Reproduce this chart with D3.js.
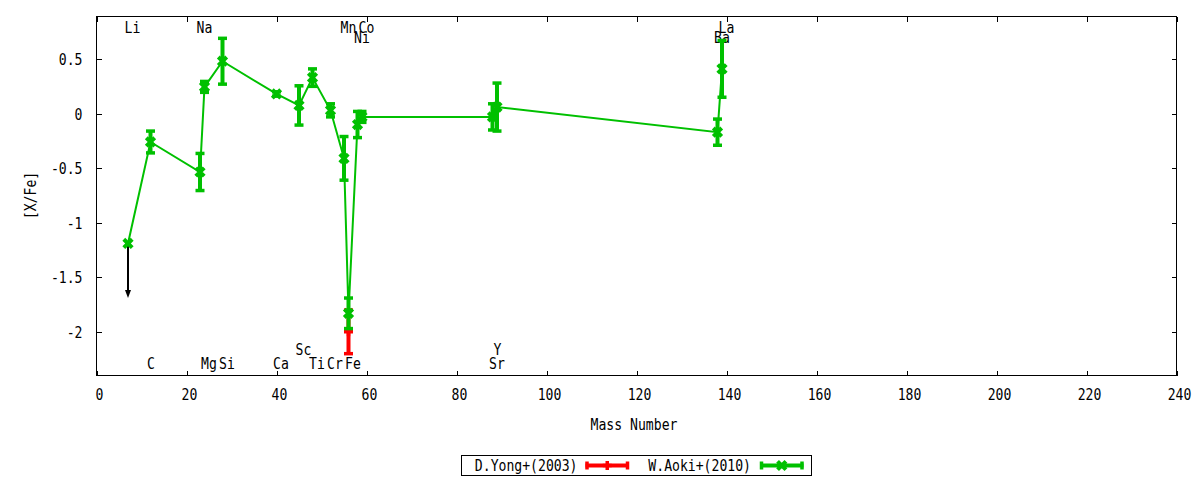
<!DOCTYPE html>
<html><head><meta charset="utf-8">
<script src="https://cdn.jsdelivr.net/npm/d3@7"></script>
<style>body{margin:0;background:#fff}</style>
</head><body>
<svg id="c" width="1200" height="480"></svg>
<script>
// ---- data ----
const elements    = ["Li","C","Na","Mg","Si","Ca","Sc","Ti","Cr","Mn","Fe","Ni","Co","Sr","Y","Ba","La"];
const massNumbers = [7, 12, 23, 24, 28, 40, 45, 48, 52, 55, 56, 58, 59, 88, 89, 138, 139];
const aokiXFe     = [-1.19,-0.26,-0.535,0.245,0.48,0.18,0.075,0.33,0.03,-0.41,-1.83,-0.10,-0.03,-0.03,0.06,-0.17,0.41];
const aokiErr     = [0,0.10,0.17,0.05,0.21,0.02,0.18,0.08,0.06,0.20,0.14,0.12,0.05,0.12,0.22,0.12,0.26];
const labelRows   = ["top1","bot1","top1","bot1","bot1","bot1","bot2","bot1","bot1","top1","bot1","top2","top1","bot1","bot2","top2","top1"];

const yongElements = ["Fe"];
const yongMass     = [56];
const yongXFe      = [-2.0];
const yongErr      = [0.2];

const upperLimitMass = [7];
const upperLimitFrom = [-1.19];
const upperLimitTo   = [-1.69];

const legendNames = ["D.Yong+(2003)","W.Aoki+(2010)"];
const xTicks = [0,20,40,60,80,100,120,140,160,180,200,220,240];
const yTicks = [-2,-1.5,-1,-0.5,0,0.5];
const xDomain = [0,240];
const yDomain = [-2.4,0.89];

// ---- layout ----
const pL=96.5, pR=1176.5, pT=16.5, pB=375.5;
const GREEN="#00c000", RED="#ff0000";
const FONT='"DejaVu Sans Mono", monospace', FS=16, SX=0.82;

const svg=d3.select("#c");
svg.append("rect").attr("width",1200).attr("height",480).attr("fill","#fff");
const x=d3.scaleLinear().domain(xDomain).range([pL,pR]);
const y=d3.scaleLinear().domain(yDomain).range([pB,pT]);

function txt(g,px,py,s,anchor,rot){
  return g.append("text")
    .attr("transform",`translate(${px},${py})${rot?` rotate(${rot})`:""} scale(${SX},1)`)
    .attr("text-anchor",anchor).attr("dy","0.35em")
    .style("font-family",FONT).style("font-size",FS+"px").attr("fill","#000")
    .text(s);
}

// axes (inward ticks, mirrored)
function styleAxis(g){
  g.attr("color","#000").style("font-family",FONT).style("font-size",FS+"px");
  g.select(".domain").remove();
  g.selectAll("line").attr("shape-rendering","crispEdges");
}
svg.append("g").attr("transform",`translate(0,${pB})`)
  .call(d3.axisBottom(x).tickValues(xTicks).tickSizeInner(-5).tickSizeOuter(0).tickFormat(d3.format("d")))
  .call(styleAxis)
  .call(g=>g.selectAll("text").attr("y",24.5).attr("dy",null).attr("x",3).attr("transform",`scale(${SX},1)`));
svg.append("g").attr("transform",`translate(0,${pT})`)
  .call(d3.axisTop(x).tickValues(xTicks).tickSizeInner(-5).tickSizeOuter(0).tickFormat(""))
  .call(styleAxis);
svg.append("g").attr("transform",`translate(${pL},0)`)
  .call(d3.axisLeft(y).tickValues(yTicks).tickSizeInner(-5).tickSizeOuter(0).tickFormat(d=>String(d)))
  .call(styleAxis)
  .call(g=>g.selectAll("text").attr("x",-14/SX).attr("dy","0.35em").attr("transform",`scale(${SX},1)`));
svg.append("g").attr("transform",`translate(${pR},0)`)
  .call(d3.axisRight(y).tickValues(yTicks).tickSizeInner(-5).tickSizeOuter(0).tickFormat(""))
  .call(styleAxis);

svg.append("rect").attr("x",pL).attr("y",pT).attr("width",pR-pL).attr("height",pB-pT)
  .attr("fill","none").attr("stroke","#000").attr("stroke-width",1).attr("shape-rendering","crispEdges");

// axis titles
txt(svg,634,424,"Mass Number","middle");
txt(svg,30.5,195.5,"[X/Fe]","middle",-90);

// element labels
const rowY={top1:pT+11.3, top2:pT+21.3, bot1:pB-12.2, bot2:pB-26.5};
const labG=svg.append("g");
elements.forEach((e,i)=>txt(labG,x(massNumbers[i])-3.4,rowY[labelRows[i]],e,"start"));

// helpers for marks
function errBar(g,m,v,err,color){
  if(!(err>0)) return;
  const px=x(m), y1=y(v+err), y2=y(v-err);
  g.append("line").attr("x1",px).attr("x2",px).attr("y1",y1).attr("y2",y2).attr("stroke",color).attr("stroke-width",4);
  [y1,y2].forEach(yy=>g.append("line").attr("x1",px-4.5).attr("x2",px+4.5).attr("y1",yy).attr("y2",yy)
    .attr("stroke",color).attr("stroke-width",3.5));
}
function xMark(g,px,py,color){
  const s=4.2;
  g.append("path").attr("d",`M${px-s},${py-s}L${px+s},${py+s}M${px-s},${py+s}L${px+s},${py-s}`)
    .attr("stroke",color).attr("stroke-width",4).attr("fill","none");
}
function plusMark(g,px,py,color){
  const s=4.5;
  g.append("path").attr("d",`M${px-s},${py}L${px+s},${py}M${px},${py-s}L${px},${py+s}`)
    .attr("stroke",color).attr("stroke-width",3.5).attr("fill","none");
}

// Yong (red)
const yg=svg.append("g");
yongMass.forEach((m,i)=>{errBar(yg,m,yongXFe[i],yongErr[i],RED);});
yongMass.forEach((m,i)=>plusMark(yg,x(m),y(yongXFe[i]),RED));

// upper limit arrow (black)
const ag=svg.append("g");
upperLimitMass.forEach((m,i)=>{
  const px=x(m), y0=y(upperLimitFrom[i]), y1=y(upperLimitTo[i]);
  ag.append("line").attr("x1",px).attr("x2",px).attr("y1",y0).attr("y2",y1-6).attr("stroke","#000").attr("stroke-width",2);
  ag.append("path").attr("d",`M${px-3},${y1-8}L${px+3},${y1-8}L${px},${y1}Z`).attr("fill","#000");
});

// Aoki (green)
const gg=svg.append("g");
const pts=massNumbers.map((m,i)=>[m,aokiXFe[i]]);
gg.append("path").attr("d",d3.line().x(d=>x(d[0])).y(d=>y(d[1]))(pts))
  .attr("fill","none").attr("stroke",GREEN).attr("stroke-width",2);
massNumbers.forEach((m,i)=>errBar(gg,m,aokiXFe[i],aokiErr[i],GREEN));
massNumbers.forEach((m,i)=>xMark(gg,x(m),y(aokiXFe[i]),GREEN));

// legend
const lg=svg.append("g");
lg.append("rect").attr("x",461.5).attr("y",455.5).attr("width",350).attr("height",19.5)
  .attr("fill","#fff").attr("stroke","#000").attr("stroke-width",1).attr("shape-rendering","crispEdges");
const ly=465.5;
const legendItems=[
  {name:legendNames[0],tx:577.5,x1:585.5,x2:629,color:RED,mark:plusMark},
  {name:legendNames[1],tx:751,x1:760,x2:803.5,color:GREEN,mark:xMark}
];
legendItems.forEach(it=>{
  txt(lg,it.tx,ly,it.name,"end");
  lg.append("line").attr("x1",it.x1).attr("x2",it.x2).attr("y1",ly).attr("y2",ly).attr("stroke",it.color).attr("stroke-width",4);
  [it.x1+1.5,it.x2-1.5].forEach(xx=>lg.append("line").attr("x1",xx).attr("x2",xx).attr("y1",ly-4).attr("y2",ly+4)
     .attr("stroke",it.color).attr("stroke-width",3.5));
  it.mark(lg,(it.x1+it.x2)/2,ly,it.color);
});
</script>
</body></html>
